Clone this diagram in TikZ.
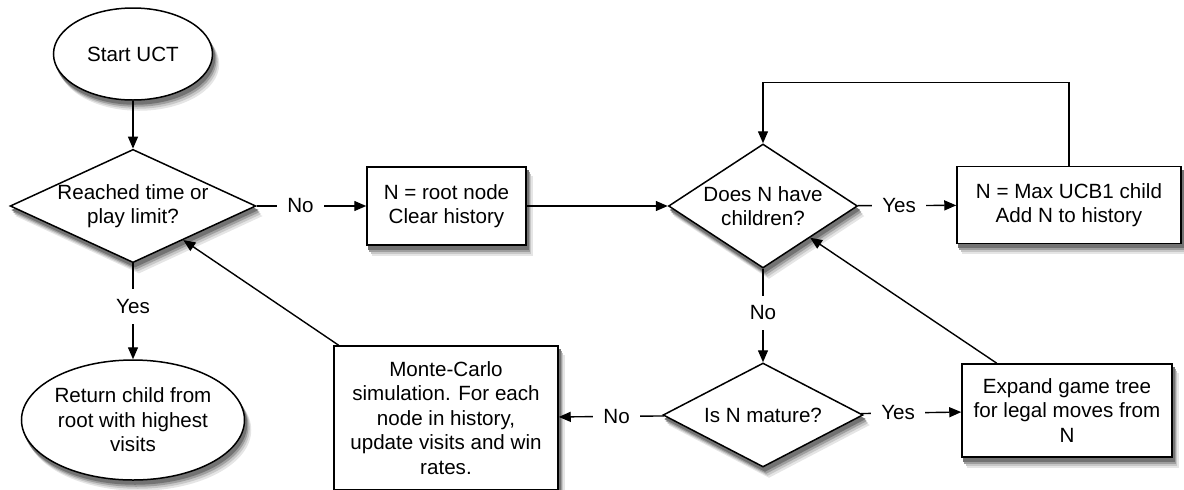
\documentclass[tikz,border=0pt]{standalone}
\usepackage{fontspec}
\setmainfont{Liberation Sans}
\usetikzlibrary{shapes.geometric,arrows.meta,backgrounds,calc}

\tikzset{
	base/.style={draw=black, line width=0.75pt, fill=white, align=center,
		font=\fontsize{10.3}{12.2}\selectfont},
	terminal/.style={base, ellipse, inner sep=0pt},
	decision/.style={base, diamond, inner sep=0pt},
	process/.style={base, rectangle, inner sep=2pt},
	flow/.style={line width=0.7pt, -{Triangle[length=6pt,width=5pt]}},
	answer/.style={fill=white, inner sep=5pt, pos=0.42, font=\fontsize{10.3}{12.2}\selectfont},
}

\begin{document}
\begin{tikzpicture}[x=0.5pt, y=-0.5pt]
	\useasboundingbox (0,0) rectangle (1184,489);

	% Left column
	\node[terminal, minimum width=79.5pt, minimum height=46pt] (start) at (133,54) {Start UCT};
	\node[decision, aspect=2.17, minimum width=122.5pt, minimum height=56.5pt] (limit) at (133,206) {Reached time or\\play limit?};
	\node[terminal, minimum width=111.5pt, minimum height=60pt] (result) at (133,420) {Return child from\\root with highest\\visits};

	% Middle column
	\node[process, minimum width=79.5pt, minimum height=39pt] (reset) at (446.5,206) {N = root node\\Clear history};
	\node[process, minimum width=112pt, minimum height=72pt] (simulate) at (446,418) {Monte-Carlo\\simulation. For each\\node in history,\\update visits and win\\rates.};

	% Right part
	\node[decision, aspect=1.52, minimum width=94.5pt, minimum height=62pt] (children) at (763,206) {Does N have\\children?};
	\node[process, minimum width=112pt, minimum height=38.5pt] (select) at (1069,205) {N = Max UCB1 child\\Add N to history};
	\node[decision, aspect=1.92, minimum width=100pt, minimum height=52pt] (mature) at (763,415) {Is N mature?};
	\node[process, minimum width=105pt, minimum height=46.5pt] (expand) at (1067,410.5) {Expand game tree\\for legal moves from\\N};

	% Soft shadows, a few layers
	\begin{scope}[on background layer]
		\foreach \dx/\dy/\tone in {3/-5/10, 2.3/-4/22, 1.6/-3/38, 1/-2/55} {
			\foreach \nd in {reset,simulate,select,expand}
				\fill[black!\tone] ($(\nd.south west)+(\dx pt,\dy pt)$) rectangle ($(\nd.north east)+(\dx pt,\dy pt)$);
			\foreach \nd in {limit,children,mature}
				\fill[black!\tone] ($(\nd.north)+(\dx pt,\dy pt)$) -- ($(\nd.east)+(\dx pt,\dy pt)$)
					-- ($(\nd.south)+(\dx pt,\dy pt)$) -- ($(\nd.west)+(\dx pt,\dy pt)$) -- cycle;
			\foreach \nd in {start,result}
				\fill[black!\tone] let \p0=(\nd.center), \p1=(\nd.east), \p2=(\nd.north) in
					($(\nd.center)+(\dx pt,\dy pt)$) ellipse [x radius=\x1-\x0, y radius=\y2-\y0];
		}
	\end{scope}

	% Connectors
	\draw[flow] (start) -- (limit);
	\draw[flow] (limit) -- node[answer, pos=0.4] {No} (reset);
	\draw[flow] (limit) -- node[answer, pos=0.45] {Yes} (result);
	\draw[flow] (reset) -- (children);
	\draw[flow] (children) -- node[answer] {Yes} (select);
	\draw[flow] (select.north) -- ++(0,-83) -| (children.north);
	\draw[flow] (children) -- node[answer, pos=0.47] {No} (mature);
	\draw[flow] (mature) -- node[answer, pos=0.37] {Yes} (expand);
	\draw[flow] (mature) -- node[answer, pos=0.45] {No} (simulate);
	\draw[flow] (expand) -- (children);
	\draw[flow] (simulate) -- (limit);
\end{tikzpicture}
\end{document}
